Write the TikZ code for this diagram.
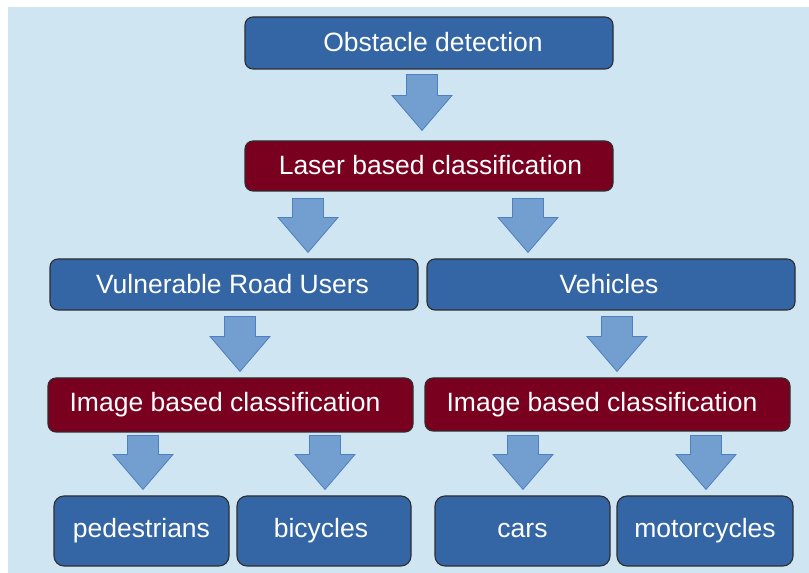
\documentclass[tikz,border=0pt]{standalone}
\usepackage{fontspec}
\setmainfont{Liberation Sans}
\usetikzlibrary{calc}
\definecolor{bgblue}{HTML}{CFE5F2}
\definecolor{boxblue}{HTML}{3465A4}
\definecolor{boxred}{HTML}{7A0020}
\definecolor{arrfill}{HTML}{729FCF}
\definecolor{arrdraw}{HTML}{4E7FBE}
\definecolor{boxline}{HTML}{2E2E2E}
\tikzset{
  basebox/.style={draw=boxline, line width=1.1pt, rounded corners=8pt, text=white,
    font=\fontsize{26.5}{30}\selectfont, inner sep=0pt, anchor=center},
  bluebox/.style={basebox, fill=boxblue},
  redbox/.style={basebox, fill=boxred},
  blockarr/.style={fill=arrfill, draw=arrdraw, line width=0.8pt, line join=miter},
}
% #1 x centre, #2 upper node, #3 lower node, #4 top gap, #5 tip gap
\newcommand\blockarrow[5]{%
  \path[blockarr] let \p1=(#2.south), \p2=(#3.north),
     \n1={\y1-#4pt}, \n2={\y2+#5pt}, \n3={\y2+#5pt+35pt} in
     (#1pt-15.5pt,\n1) -- (#1pt+15.5pt,\n1) -- (#1pt+15.5pt,\n3) -- (#1pt+30pt,\n3)
     -- (#1pt,\n2) -- (#1pt-30pt,\n3) -- (#1pt-15.5pt,\n3) -- cycle;
}
\begin{document}
\begin{tikzpicture}[x=1pt,y=1pt]
\useasboundingbox (0,0) rectangle (809,573);
\fill[bgblue] (8,0) rectangle (809,566);
% boxes (y = 573 - image y)
\node[bluebox, minimum width=368pt, minimum height=52pt] (obs) at (429,530) {\hspace*{8pt}\raisebox{3pt}{Obstacle detection}};
\node[redbox, minimum width=368pt, minimum height=50pt] (laser) at (429,407) {\hspace*{3pt}\raisebox{2pt}{Laser based classification}};
\node[bluebox, minimum width=368pt, minimum height=51pt] (vru) at (234,288.5) {\raisebox{2pt}{Vulnerable Road Users}\hspace*{3pt}};
\node[bluebox, minimum width=368pt, minimum height=51pt] (veh) at (611,288.5) {\raisebox{2pt}{Vehicles}\hspace*{4pt}};
\node[redbox, minimum width=365pt, minimum height=54pt] (img1) at (230.5,168) {Image based classification\hspace*{11pt}};
\node[redbox, minimum width=365pt, minimum height=53pt] (img2) at (607.5,168.5) {Image based classification\hspace*{11pt}};
\node[bluebox, rounded corners=10pt, minimum width=175pt, minimum height=70pt] (ped) at (141.5,42) {pedestrians};
\node[bluebox, rounded corners=10pt, minimum width=174pt, minimum height=70pt] (bic) at (324,42) {bicycles\hspace*{6pt}};
\node[bluebox, rounded corners=10pt, minimum width=175pt, minimum height=70pt] (cars) at (522.5,42) {cars};
\node[bluebox, rounded corners=10pt, minimum width=176pt, minimum height=70pt] (moto) at (705,42) {motorcycles};
% block arrows
\blockarrow{422}{obs}{laser}{5}{10}
\blockarrow{308}{laser}{vru}{7}{6}
\blockarrow{528}{laser}{veh}{7}{6}
\blockarrow{240}{vru}{img1}{6}{6}
\blockarrow{617}{veh}{img2}{6}{6}
\blockarrow{143}{img1}{ped}{3}{6}
\blockarrow{325}{img1}{bic}{3}{6}
\blockarrow{523}{img2}{cars}{4}{6}
\blockarrow{706}{img2}{moto}{4}{6}
\end{tikzpicture}
\end{document}
